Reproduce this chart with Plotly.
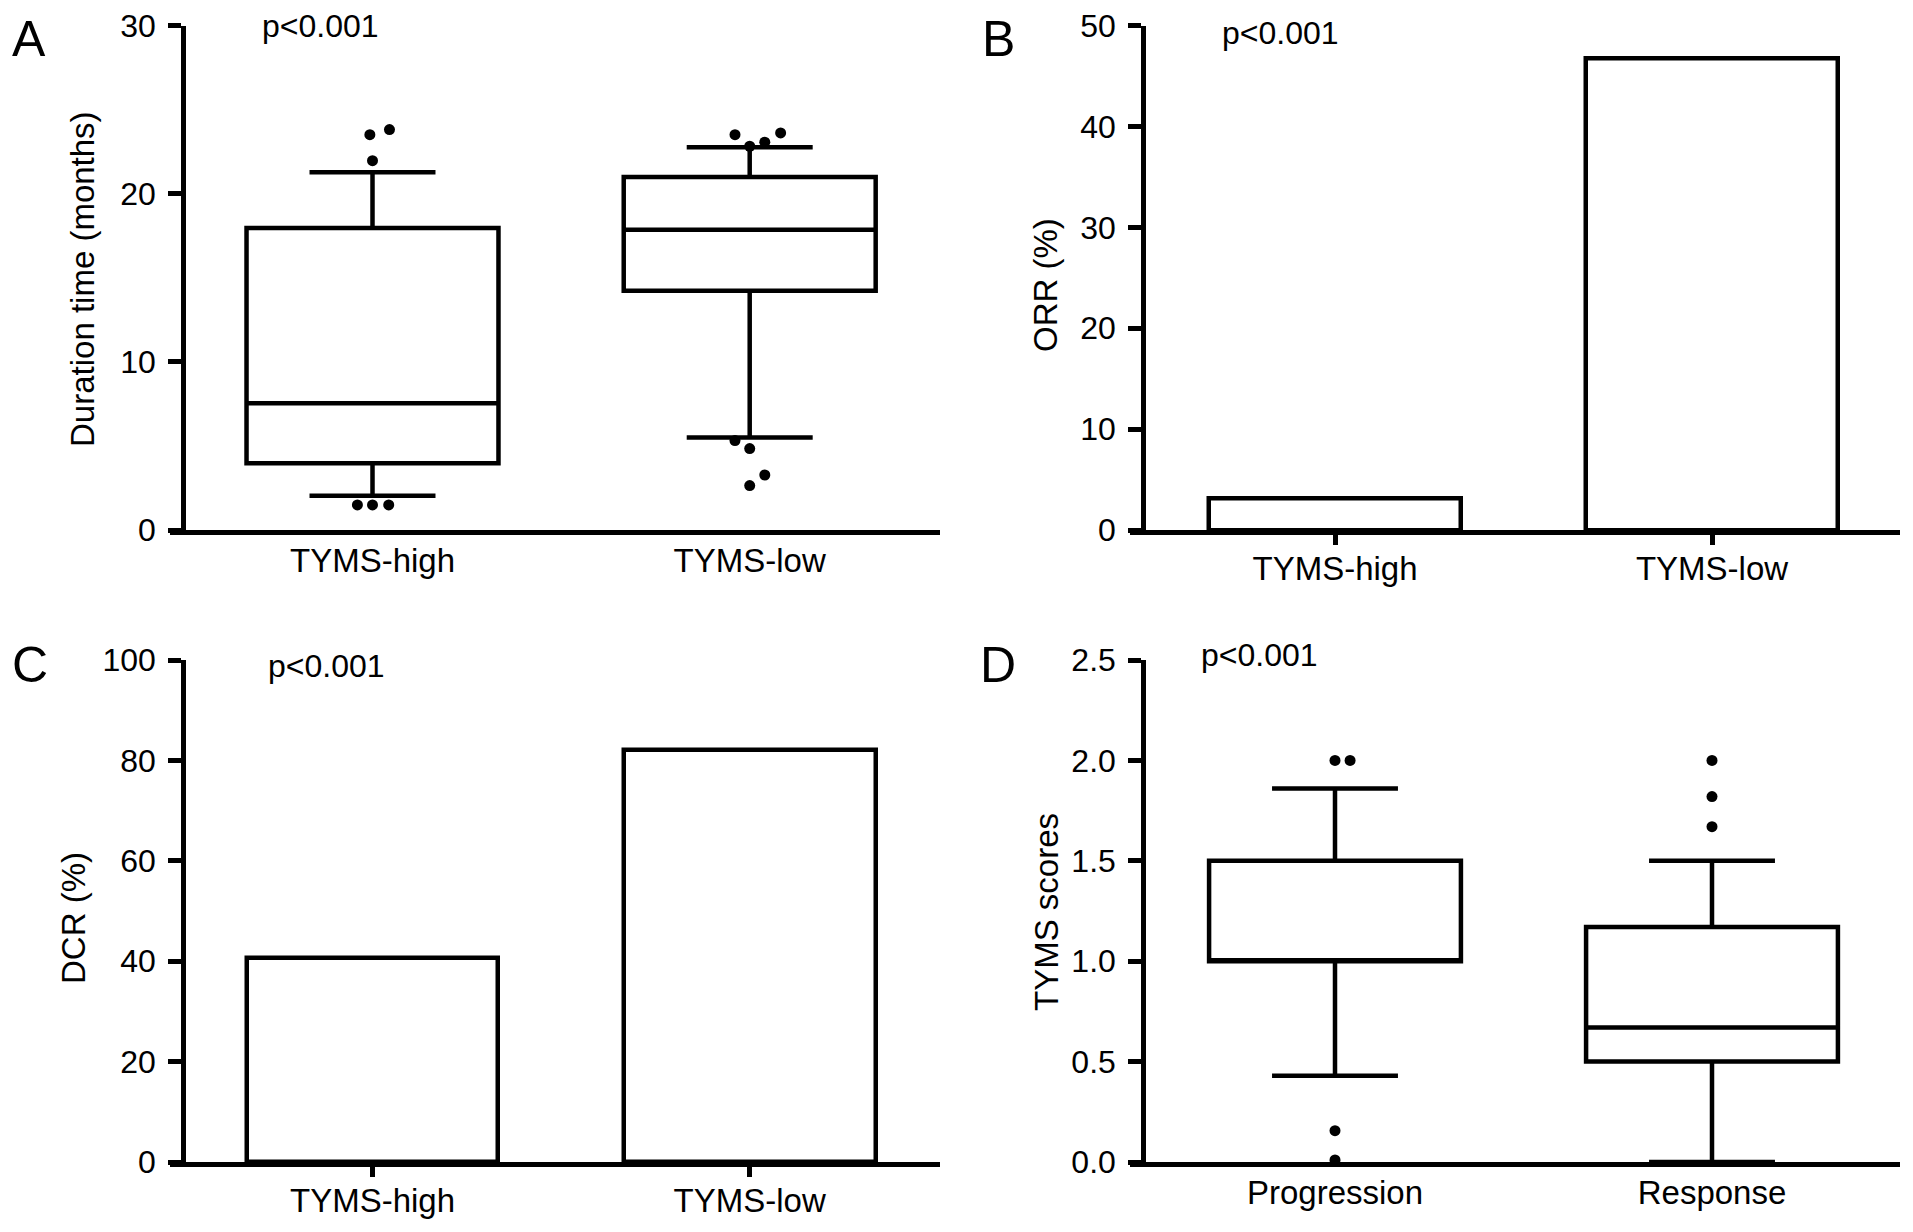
import plotly.graph_objects as go

W, H = 1913, 1232

# ---------------- data ----------------
groups_tyms = ["TYMS-high", "TYMS-low"]
groups_resp = ["Progression", "Response"]

# Panel A: duration time (months), box summary per group
a_q1 = [3.97, 14.23]
a_median = [7.54, 17.86]
a_q3 = [17.96, 20.99]
a_lowerfence = [2.04, 5.50]
a_upperfence = [21.27, 22.76]
# outliers: group index, horizontal jitter (category units), value
a_out_group = [0, 0, 0, 0, 0, 0, 1, 1, 1, 1, 1, 1, 1, 1]
a_out_jitter = [-0.007, 0.045, 0.0, -0.04, 0.0, 0.043,
                -0.039, 0.0, 0.04, 0.082, -0.039, 0.0, 0.04, 0.0]
a_out_value = [23.51, 23.81, 21.96, 1.49, 1.49, 1.49,
               23.51, 22.82, 23.06, 23.61, 5.32, 4.84, 3.27, 2.64]

# Panel B: ORR (%)
orr_values = [3.1, 46.7]

# Panel C: DCR (%)
dcr_values = [40.6, 82.1]

# Panel D: TYMS scores, box summary per group
d_q1 = [1.0, 0.5]
d_median = [1.0, 0.67]
d_q3 = [1.5, 1.17]
d_lowerfence = [0.43, 0.0]
d_upperfence = [1.86, 1.5]
d_out_group = [0, 0, 0, 0, 1, 1, 1]
d_out_jitter = [0.0, 0.04, 0.0, 0.0, 0.0, 0.0, 0.0]
d_out_value = [2.0, 2.0, 0.156, 0.01, 2.0, 1.82, 1.67]

y_ticks_a = [0, 10, 20, 30]
y_ticks_b = [0, 10, 20, 30, 40, 50]
y_ticks_c = [0, 20, 40, 60, 80, 100]
y_ticks_d = [0.0, 0.5, 1.0, 1.5, 2.0, 2.5]

# ---------------- layout geometry (pixels) ----------------
FONT = "Liberation Sans, Arial, Helvetica, sans-serif"
LW = 4.5
BOXW = 0.668


def fx(p):
    return p / W


def fy(p):
    return 1 - p / H


cols = {
    "L": dict(xs=170, xe=940, ypos=183, c0=372.5, c1=749.7),
    "R": dict(xs=1130, xe=1900, ypos=1143, c0=1335, c1=1712),
}
rows = {1: dict(top=25.5, bottom=530), 2: dict(top=660, bottom=1162)}

panels = [
    # (axis suffix, col, row, ymax, yticks, ticktext, show xticks, ytickformat)
    ("", "L", 1, 30, y_ticks_a, groups_tyms, False, None),
    ("2", "R", 1, 50, y_ticks_b, groups_tyms, True, None),
    ("3", "L", 2, 100, y_ticks_c, groups_tyms, True, None),
    ("4", "R", 2, 2.5, y_ticks_d, groups_resp, False, ".1f"),
]

fig = go.Figure()

layout_axes = {}
for suf, col, row, ymax, yt, ttext, xt, yfmt in panels:
    c = cols[col]
    r = rows[row]
    unit = c["c1"] - c["c0"]
    r0 = -(c["c0"] - c["xs"]) / unit
    r1 = 1 + (c["xe"] - c["c1"]) / unit
    xa = dict(
        domain=[fx(c["xs"]), fx(c["xe"])],
        range=[r0, r1],
        anchor="y" + suf,
        showline=True, linecolor="black", linewidth=LW,
        tickmode="array", tickvals=[0, 1], ticktext=ttext,
        tickfont=dict(family=FONT, size=33, color="black"),
        showgrid=False, zeroline=False, fixedrange=True, automargin=False,
    )
    if xt:
        xa.update(ticks="outside", ticklen=10, tickwidth=LW, tickcolor="black",
                  ticklabelstandoff=-4)
    else:
        xa.update(ticks="", ticklabelstandoff=-2)
    layout_axes["xaxis" + suf] = xa
    ya = dict(
        domain=[fy(r["bottom"]), fy(r["top"])],
        range=[0, ymax],
        anchor="free", position=fx(c["ypos"]),
        showline=True, linecolor="black", linewidth=LW,
        tickmode="array", tickvals=yt,
        ticks="outside", ticklen=13, tickwidth=LW, tickcolor="black",
        ticklabelstandoff=6,
        tickfont=dict(family=FONT, size=32, color="black"),
        showgrid=False, zeroline=False, fixedrange=True, automargin=False,
    )
    if yfmt:
        ya["tickformat"] = yfmt
    layout_axes["yaxis" + suf] = ya

box_style = dict(
    width=BOXW, whiskerwidth=0.5, fillcolor="white",
    line=dict(color="black", width=LW), boxpoints=False,
    showlegend=False, hoverinfo="skip",
)

# Panel A box
fig.add_trace(go.Box(
    x=[0, 1], q1=a_q1, median=a_median, q3=a_q3,
    lowerfence=a_lowerfence, upperfence=a_upperfence,
    xaxis="x", yaxis="y", **box_style))
fig.add_trace(go.Scatter(
    x=[g + j for g, j in zip(a_out_group, a_out_jitter)], y=a_out_value,
    mode="markers", marker=dict(color="black", size=11),
    xaxis="x", yaxis="y", showlegend=False, cliponaxis=False))

# Panel B bars
fig.add_trace(go.Bar(
    x=[0, 1], y=orr_values, width=BOXW,
    marker=dict(color="white", line=dict(color="black", width=LW)),
    xaxis="x2", yaxis="y2", showlegend=False))

# Panel C bars
fig.add_trace(go.Bar(
    x=[0, 1], y=dcr_values, width=BOXW,
    marker=dict(color="white", line=dict(color="black", width=LW)),
    xaxis="x3", yaxis="y3", showlegend=False))

# Panel D box
fig.add_trace(go.Box(
    x=[0, 1], q1=d_q1, median=d_median, q3=d_q3,
    lowerfence=d_lowerfence, upperfence=d_upperfence,
    xaxis="x4", yaxis="y4", **box_style))
fig.add_trace(go.Scatter(
    x=[g + j for g, j in zip(d_out_group, d_out_jitter)], y=d_out_value,
    mode="markers", marker=dict(color="black", size=11),
    xaxis="x4", yaxis="y4", showlegend=False, cliponaxis=True))

# ---------------- text ----------------
annotations = []
letters = [("A", 29, 39), ("B", 998, 39), ("C", 30, 665), ("D", 998, 665)]
for t, x, y in letters:
    annotations.append(dict(text=t, x=fx(x), y=fy(y), xref="paper", yref="paper",
                            xanchor="center", yanchor="middle", showarrow=False,
                            font=dict(family=FONT, size=50, color="black")))
pvals = [(260, 26), (1220, 33), (266, 666), (1199, 655)]
for x, y in pvals:
    annotations.append(dict(text="p<0.001", x=fx(x), y=fy(y), xref="paper", yref="paper",
                            xanchor="left", yanchor="middle", showarrow=False,
                            font=dict(family=FONT, size=32, color="black")))
titles = [("Duration time (months)", 82, 279), ("ORR (%)", 1046, 285),
          ("DCR (%)", 73, 918), ("TYMS scores", 1046, 912)]
for t, x, y in titles:
    annotations.append(dict(text=t, x=fx(x), y=fy(y), xref="paper", yref="paper",
                            xanchor="center", yanchor="middle", textangle=-90,
                            showarrow=False,
                            font=dict(family=FONT, size=33, color="black")))

fig.update_layout(
    width=W, height=H, autosize=False,
    margin=dict(l=0, r=0, t=0, b=0, pad=0, autoexpand=False),
    paper_bgcolor="white", plot_bgcolor="white",
    showlegend=False, bargap=0,
    annotations=annotations,
    **layout_axes,
)

fig.write_html("out.html", config={"displayModeBar": False},
               post_script="document.body.style.margin='0';document.body.style.overflow='hidden';")
